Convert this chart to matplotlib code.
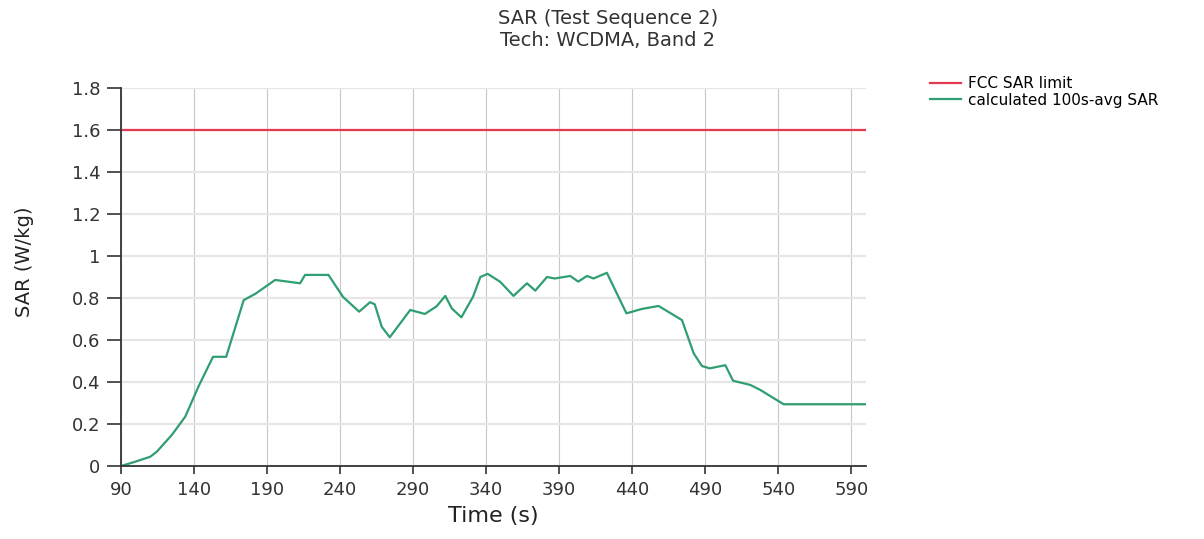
import matplotlib
matplotlib.use("Agg")
import matplotlib.pyplot as plt

# Data
time_s = [90, 99.6, 110, 114.5, 124.8, 134, 143, 153, 162, 174, 182, 195.5,
          212.6, 216, 232, 242, 253, 260.5, 263.7, 268.5, 274, 288, 298, 306,
          312, 316.5, 323, 331, 336, 341, 349.6, 358.7, 367.9, 373.6, 381.6,
          387, 397.5, 403, 409, 413.5, 422.6, 436, 446.6, 458, 474, 482,
          487.7, 493, 503.7, 509, 520.8, 527.7, 543.6, 600]
sar_avg = [0.0, 0.02, 0.044, 0.068, 0.148, 0.235, 0.378, 0.52, 0.52, 0.79, 0.82, 0.886,
           0.87, 0.91, 0.91, 0.805, 0.735, 0.78, 0.77, 0.663, 0.613, 0.743, 0.724, 0.76,
           0.81, 0.75, 0.708, 0.806, 0.90, 0.915, 0.877, 0.81, 0.87, 0.835, 0.90,
           0.893, 0.905, 0.878, 0.905, 0.893, 0.92, 0.727, 0.748, 0.762, 0.695, 0.537,
           0.476, 0.465, 0.48, 0.406, 0.386, 0.362, 0.294, 0.294]
fcc_limit = 1.6
x_ticks = [90, 140, 190, 240, 290, 340, 390, 440, 490, 540, 590]
y_ticks = [0, 0.2, 0.4, 0.6, 0.8, 1.0, 1.2, 1.4, 1.6, 1.8]
y_tick_labels = ["0", "0.2", "0.4", "0.6", "0.8", "1", "1.2", "1.4", "1.6", "1.8"]

W, H = 1204, 539
fig = plt.figure(figsize=(W / 100, H / 100), dpi=100)
ax = fig.add_axes([121 / W, 1 - 466 / H, (866 - 121) / W, (466 - 88) / H])

ax.axhline(fcc_limit, color="#e23a4e", lw=1.6, label="FCC SAR limit")
ax.plot(time_s, sar_avg, color="#2f9e70", lw=1.6, label="calculated 100s-avg SAR")

ax.set_xlim(90, 600)
ax.set_ylim(0, 1.8)
ax.set_xticks(x_ticks)
ax.set_yticks(y_ticks)
ax.set_yticklabels(y_tick_labels)
ax.tick_params(axis="both", direction="out", width=1.2, color="#333333",
               labelsize=13, labelcolor="#333333")
ax.tick_params(axis="y", length=10, pad=5)
ax.tick_params(axis="x", length=6, pad=5)
for lab in ax.get_xticklabels() + ax.get_yticklabels():
    lab.set_family("DejaVu Sans")

ax.grid(axis="y", color="#e6e6e6", lw=1.6)
ax.grid(axis="x", color="#c8c8c8", lw=0.8)
ax.set_axisbelow(True)
for s in ["top", "right"]:
    ax.spines[s].set_visible(False)
for s in ["left", "bottom"]:
    ax.spines[s].set_color("#333333")
    ax.spines[s].set_linewidth(1.3)

ax.set_xlabel("Time (s)", fontsize=16, color="#222222", family="DejaVu Sans")
ax.xaxis.set_label_coords(0.5, (466 - 516) / (466 - 88))
ax.xaxis.label.set_va("center")
ax.set_ylabel("SAR (W/kg)", fontsize=14, color="#222222", family="DejaVu Sans")
ax.yaxis.set_label_coords((24 - 121) / (866 - 121), (466 - 262) / (466 - 88))
ax.yaxis.label.set_va("center")

fig.text(608 / W, 1 - 18 / H, "SAR (Test Sequence 2)", ha="center", va="center",
         fontsize=14, color="#333333", family="DejaVu Sans")
fig.text(608 / W, 1 - 40 / H, "Tech: WCDMA, Band 2", ha="center", va="center",
         fontsize=14, color="#333333", family="DejaVu Sans")

ax.legend(loc="upper left", bbox_to_anchor=(930 / W, 1 - 76 / H), bbox_transform=fig.transFigure,
          frameon=False, fontsize=11, handlelength=2.0, handletextpad=0.5,
          labelspacing=0.1, borderpad=0, borderaxespad=0)

fig.savefig("out.png", dpi=100)
